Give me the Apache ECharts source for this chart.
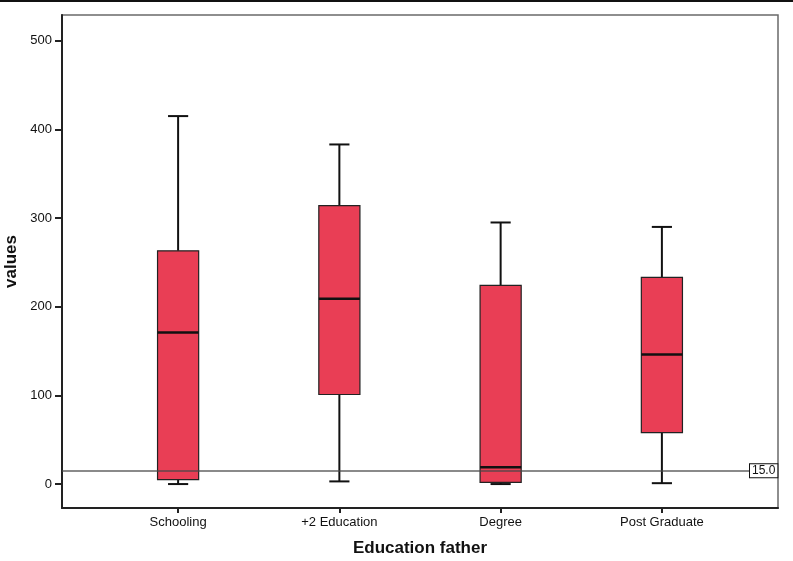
<!DOCTYPE html>
<html>
<head>
<meta charset="utf-8">
<script src="https://cdn.jsdelivr.net/npm/echarts@6/dist/echarts.min.js"></script>
<style>html,body{margin:0;padding:0;background:#fff;}#c{width:793px;height:561px;}</style>
</head>
<body>
<div id="c"></div>
<script>
// Data
const categories = ['Schooling', '+2 Education', 'Degree', 'Post Graduate'];
const whiskerMin = [0, 3, 0, 1];
const q1 = [5, 101, 2, 58];
const median = [171, 209, 19, 146];
const q3 = [263, 314, 224, 233];
const whiskerMax = [415, 383, 295, 290];
const yTicks = [0, 100, 200, 300, 400, 500];
const refValue = 15.0;

const boxData = categories.map((c, i) => [i, whiskerMin[i], q1[i], median[i], q3[i], whiskerMax[i]]);

const chart = echarts.init(document.getElementById('c'), null, {renderer: 'canvas'});
const FONT = '"Liberation Sans", Arial, sans-serif';

chart.setOption({
  animation: false,
  backgroundColor: '#fff',
  graphic: [{
    type: 'rect', shape: {x: 0, y: 0, width: 793, height: 2}, style: {fill: '#111'}
  }],
  grid: {
    left: 62, top: 15, right: 15, bottom: 53,
    containLabel: false, outerBoundsMode: 'none',
    show: true, borderColor: '#6a6a6a', borderWidth: 1.5, backgroundColor: '#fff'
  },
  xAxis: {
    type: 'value', min: -0.72, max: 3.72,
    splitLine: {show: false},
    axisLine: {show: true, onZero: false, lineStyle: {color: '#222', width: 2}},
    axisTick: {show: true, customValues: categories.map((c, i) => i), length: 5, lineStyle: {color: '#222', width: 2}},
    axisLabel: {
      customValues: categories.map((c, i) => i),
      formatter: v => categories[Math.round(v)] || '',
      fontFamily: FONT, fontSize: 13, color: '#111', margin: 8
    },
    name: 'Education father', nameLocation: 'middle', nameGap: 32,
    nameTextStyle: {fontFamily: FONT, fontSize: 17, fontWeight: 'bold', color: '#111'}
  },
  yAxis: {
    type: 'value', min: -27, max: 529,
    splitLine: {show: false},
    axisLine: {show: true, onZero: false, lineStyle: {color: '#222', width: 2}},
    axisTick: {show: true, customValues: yTicks, length: 7, lineStyle: {color: '#222', width: 2}},
    axisLabel: {customValues: yTicks, fontFamily: FONT, fontSize: 13, color: '#111', margin: 10},
    name: 'values', nameLocation: 'middle', nameGap: 41, nameRotate: 90,
    nameTextStyle: {fontFamily: FONT, fontSize: 17, fontWeight: 'bold', color: '#111'}
  },
  series: [{
    type: 'custom',
    data: boxData,
    encode: {x: 0, y: [1, 2, 3, 4, 5]},
    z: 2,
    renderItem: function (params, api) {
      const x = api.value(0);
      const vMin = api.value(1), vQ1 = api.value(2), vMed = api.value(3), vQ3 = api.value(4), vMax = api.value(5);
      const band = api.size([1, 0])[0];
      const boxW = band * 0.255, capW = band * 0.125;
      const pMin = api.coord([x, vMin]), pQ1 = api.coord([x, vQ1]), pMed = api.coord([x, vMed]),
            pQ3 = api.coord([x, vQ3]), pMax = api.coord([x, vMax]);
      const cx = pMin[0];
      const lineStyle = {stroke: '#111', lineWidth: 2};
      return {
        type: 'group',
        children: [
          {type: 'line', shape: {x1: cx, y1: pQ3[1], x2: cx, y2: pMax[1]}, style: lineStyle},
          {type: 'line', shape: {x1: cx, y1: pQ1[1], x2: cx, y2: pMin[1]}, style: lineStyle},
          {type: 'rect', shape: {x: cx - boxW / 2, y: pQ3[1], width: boxW, height: pQ1[1] - pQ3[1]},
           style: {fill: '#E93E55', stroke: '#222', lineWidth: 1.2}},
          {type: 'line', shape: {x1: cx - boxW / 2, y1: pMed[1], x2: cx + boxW / 2, y2: pMed[1]},
           style: {stroke: '#111', lineWidth: 2.5}},
          {type: 'line', shape: {x1: cx - capW / 2, y1: pMax[1], x2: cx + capW / 2, y2: pMax[1]}, style: lineStyle},
          {type: 'line', shape: {x1: cx - capW / 2, y1: pMin[1], x2: cx + capW / 2, y2: pMin[1]}, style: lineStyle}
        ]
      };
    }
  }, {
    type: 'line',
    data: [],
    z: 5,
    markLine: {
      silent: true,
      symbol: ['none', 'none'],
      lineStyle: {color: 'rgba(70,70,70,0.85)', width: 1.5, type: 'solid'},
      label: {
        show: true, position: 'end', formatter: refValue.toFixed(1),
        offset: [-33, 0],
        backgroundColor: '#fff', borderColor: '#111', borderWidth: 1,
        padding: [1, 2, 0, 2], fontFamily: FONT, fontSize: 12, color: '#111'
      },
      data: [{yAxis: refValue}]
    }
  }]
});
</script>
</body>
</html>
